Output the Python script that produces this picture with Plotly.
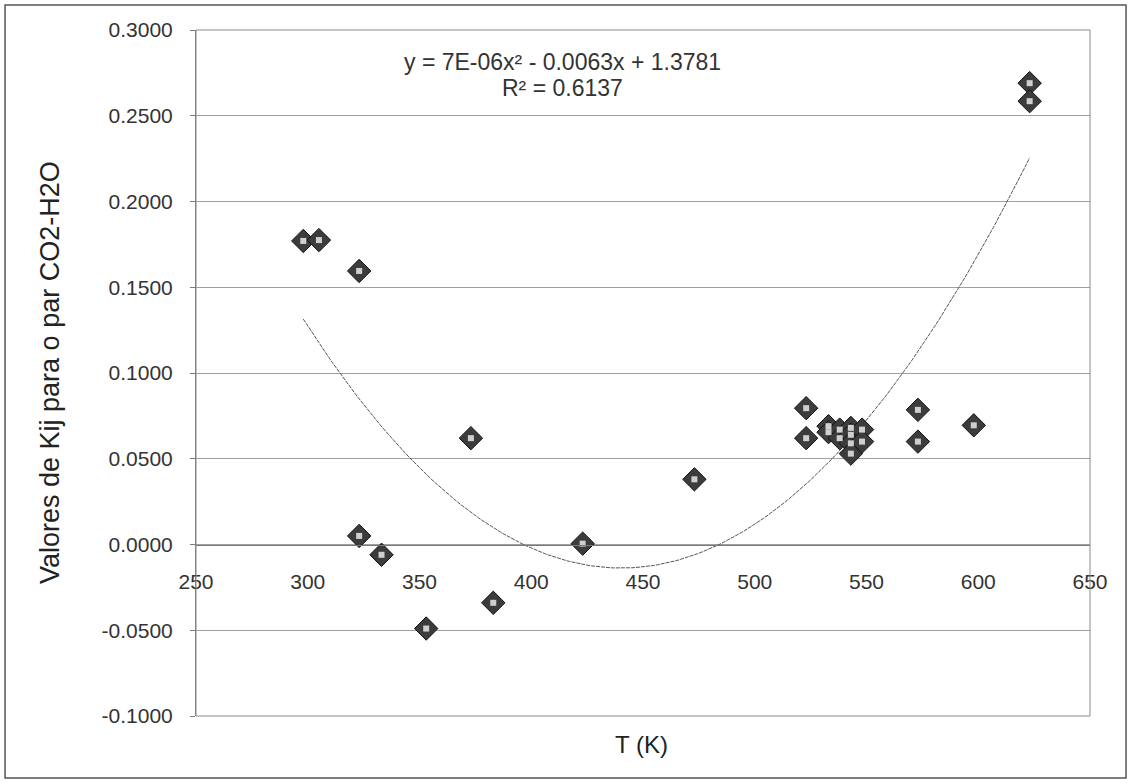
import numpy as np
import plotly.graph_objects as go

# Data (T in K, Kij for CO2-H2O)
temperature = [298, 305, 323, 323, 333, 353, 373, 383, 423, 473,
               523, 523, 533, 533, 538, 538, 543, 543, 543, 543,
               548, 548, 573, 573, 598, 623, 623]
kij = [0.1770, 0.1775, 0.1595, 0.0050, -0.0060, -0.0490, 0.0620, -0.0340, 0.0005, 0.0380,
       0.0795, 0.0620, 0.0690, 0.0655, 0.0670, 0.0620, 0.0680, 0.0640, 0.0590, 0.0530,
       0.0670, 0.0600, 0.0785, 0.0600, 0.0695, 0.2690, 0.2585]

x_tick_vals = [250, 300, 350, 400, 450, 500, 550, 600, 650]
x_tick_labels = ["250", "300", "350", "400", "450", "500", "550", "600", "650"]
y_tick_vals = [-0.10, -0.05, 0.0, 0.05, 0.10, 0.15, 0.20, 0.25, 0.30]
y_tick_labels = ["-0.1000", "-0.0500", "0.0000", "0.0500", "0.1000",
                 "0.1500", "0.2000", "0.2500", "0.3000"]

equation_text = "y = 7E-06x² - 0.0063x + 1.3781"
r2_text = "R² = 0.6137"
x_title = "T (K)"
y_title = "Valores de Kij para o par CO2-H2O"

# Polynomial (order 2) trendline fitted to the data
coef = np.polyfit(temperature, kij, 2)
t_fit = np.linspace(min(temperature), max(temperature), 200)
k_fit = np.polyval(coef, t_fit)

font_family = "Liberation Sans, Arial, sans-serif"

fig = go.Figure()
fig.add_trace(go.Scatter(x=t_fit, y=k_fit, mode="lines",
                         line=dict(color="#555555", width=1, dash="4px,1px"),
                         hoverinfo="skip", showlegend=False))
fig.add_trace(go.Scatter(x=temperature, y=kij, mode="markers",
                         marker=dict(symbol="diamond", size=18, color="#3c3c3c",
                                     line=dict(color="#111111", width=1)),
                         showlegend=False))
fig.add_trace(go.Scatter(x=temperature, y=kij, mode="markers",
                         marker=dict(symbol="square", size=6, color="#cfcfcf",
                                     line=dict(width=0)),
                         hoverinfo="skip", showlegend=False))

fig.update_layout(
    width=1131, height=783,
    margin=dict(l=196, r=41, t=30, b=67),
    paper_bgcolor="white", plot_bgcolor="white",
    font=dict(family=font_family, size=21, color="#222222"),
    xaxis=dict(range=[250, 650], tickvals=x_tick_vals, ticktext=x_tick_labels,
               showgrid=False, zeroline=False, showline=True, linecolor="#7a7a7a",
               linewidth=1, anchor="free", position=0.25, ticks="",
               ticklabelstandoff=18,
               tickfont=dict(size=21, color="#333333")),
    yaxis=dict(range=[-0.1, 0.3], tickvals=y_tick_vals, ticktext=y_tick_labels,
               showgrid=True, gridcolor="#a0a0a0", gridwidth=1, zeroline=False,
               showline=True, linecolor="#7a7a7a", linewidth=1,
               ticks="outside", ticklen=5, tickcolor="#7a7a7a",
               ticklabelstandoff=13,
               tickfont=dict(size=21, color="#333333"), domain=[0, 1]),
    shapes=[
        dict(type="rect", xref="paper", yref="paper", x0=0, x1=1, y0=0, y1=1,
             line=dict(color="#8a8a8a", width=1), fillcolor="rgba(0,0,0,0)", layer="above"),
        dict(type="rect", xref="paper", yref="paper", x0=-0.2136, x1=1.0403,
             y0=-0.0904, y1=1.0364, line=dict(color="#555555", width=1.5),
             fillcolor="rgba(0,0,0,0)"),
    ],
    annotations=[
        dict(text=equation_text, xref="paper", yref="paper", x=0.4105, y=(716 - 62) / 686,
             showarrow=False, xanchor="center", yanchor="middle",
             font=dict(size=23, color="#333333")),
        dict(text=r2_text, xref="paper", yref="paper", x=0.4105, y=(716 - 88) / 686,
             showarrow=False, xanchor="center", yanchor="middle",
             font=dict(size=23, color="#333333")),
        dict(text=x_title, xref="paper", yref="paper", x=0.498, y=-0.042,
             showarrow=False, xanchor="center", yanchor="middle",
             font=dict(size=24, color="#222222")),
        dict(text=y_title, xref="paper", yref="paper", x=-0.1633, y=0.5,
             showarrow=False, xanchor="center", yanchor="middle", textangle=-90,
             font=dict(size=27, color="#222222")),
    ],
)

fig.write_html("out.html")
